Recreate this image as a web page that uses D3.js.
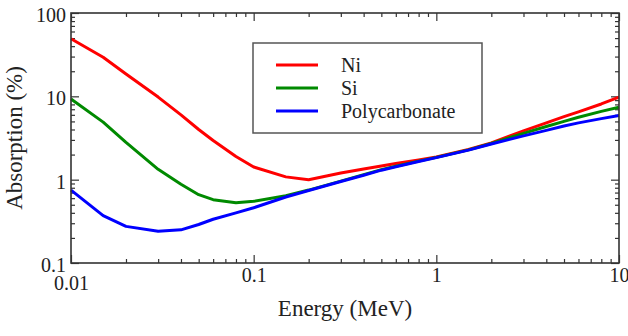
<!DOCTYPE html>
<html>
<head>
<meta charset="utf-8">
<script src="https://cdn.jsdelivr.net/npm/d3@7"></script>
</head>
<body style="margin:0">
<script>
// energies (MeV) shared by all series
const energy = [0.01, 0.015, 0.02, 0.03, 0.04, 0.05, 0.06, 0.08, 0.1, 0.15, 0.2, 0.3, 0.4, 0.5, 0.6, 0.8, 1, 1.5, 2, 3, 4, 5, 6, 8, 10];

// absorption (%) per material
const ni = [49, 29.5, 18.5, 9.8, 6.0, 4.0, 2.95, 1.9, 1.42, 1.08, 1.0, 1.2, 1.34, 1.46, 1.56, 1.72, 1.87, 2.3, 2.76, 3.85, 4.8, 5.7, 6.5, 8.1, 9.8];
const si = [9.3, 4.9, 2.8, 1.33, 0.88, 0.66, 0.575, 0.53, 0.55, 0.64, 0.75, 0.96, 1.15, 1.32, 1.45, 1.67, 1.85, 2.28, 2.72, 3.6, 4.35, 5.0, 5.6, 6.6, 7.4];
const pc = [0.75, 0.37, 0.275, 0.24, 0.25, 0.29, 0.335, 0.4, 0.46, 0.62, 0.74, 0.95, 1.13, 1.3, 1.43, 1.65, 1.84, 2.26, 2.68, 3.35, 3.9, 4.4, 4.8, 5.4, 5.9];

const seriesNames = ["Ni", "Si", "Polycarbonate"];
const seriesColors = ["#ff0000", "#008a00", "#0000ff"];

const xMajor = [0.01, 0.1, 1, 10];
const yMajor = [0.1, 1, 10, 100];

const W = 628, H = 336;
const m = { left: 71, right: 9, top: 13, bottom: 73 };
const FONT = '"Times New Roman"';

const svg = d3.select("body").append("svg")
  .attr("width", W)
  .attr("height", H);

const x = d3.scaleLog().domain([0.01, 10]).range([m.left, W - m.right]);
const y = d3.scaleLog().domain([0.1, 100]).range([H - m.bottom, m.top]);

// minor ticks 2..9 of each decade
const xMinor = x.ticks().filter(v => !xMajor.some(t => Math.abs(t - v) < 1e-9));
const yMinor = y.ticks().filter(v => !yMajor.some(t => Math.abs(t - v) < 1e-9));

const fmt = d => String(+d.toPrecision(3));

function addAxis(axisFn, scale, transform, values, size, labels) {
  const a = axisFn(scale).tickValues(values).tickSizeInner(-size).tickSizeOuter(0);
  if (labels) a.tickPadding(5).tickFormat(fmt); else a.tickFormat("");
  const g = svg.append("g").attr("transform", transform).call(a);
  g.select(".domain").remove();
  g.attr("font-family", null).attr("font-size", null);
  g.selectAll(".tick line").attr("stroke", "#333").attr("stroke-width", 1.2);
  g.selectAll("text")
    .style("font-family", FONT)
    .style("font-size", "20px")
    .style("fill", "#222");
  return g;
}

const atBottom = `translate(0,${H - m.bottom})`;
const atTop = `translate(0,${m.top})`;
const atLeft = `translate(${m.left},0)`;
const atRight = `translate(${W - m.right},0)`;

addAxis(d3.axisBottom, x, atBottom, xMinor, 4, false);
const xg = addAxis(d3.axisBottom, x, atBottom, xMajor, 8, true);
addAxis(d3.axisTop, x, atTop, xMinor, 4, false);
addAxis(d3.axisTop, x, atTop, xMajor, 8, false);
addAxis(d3.axisLeft, y, atLeft, yMinor, 4, false);
const yg = addAxis(d3.axisLeft, y, atLeft, yMajor, 8, true);
addAxis(d3.axisRight, y, atRight, yMinor, 4, false);
addAxis(d3.axisRight, y, atRight, yMajor, 8, false);

// the 0.01 label sits a little lower, under the 0.1 of the y axis
xg.selectAll(".tick").filter(d => d === 0.01).select("text").attr("dy", "1.1em");
yg.selectAll("text").attr("x", -5).attr("dy", "0.42em");

// data lines
const line = d3.line()
  .x((d, i) => x(energy[i]))
  .y(d => y(d));

[ni, si, pc].forEach((vals, k) => {
  svg.append("path")
    .datum(vals)
    .attr("fill", "none")
    .attr("stroke", seriesColors[k])
    .attr("stroke-width", 3)
    .attr("stroke-linejoin", "round")
    .attr("d", line);
});

// frame
svg.append("rect")
  .attr("x", m.left)
  .attr("y", m.top)
  .attr("width", W - m.left - m.right)
  .attr("height", H - m.top - m.bottom)
  .attr("fill", "none")
  .attr("stroke", "#333")
  .attr("stroke-width", 1.6);

// axis titles
svg.append("text")
  .attr("x", (m.left + W - m.right) / 2)
  .attr("y", 316)
  .attr("text-anchor", "middle")
  .style("fill", "#222")
  .style("font-family", FONT)
  .style("font-size", "23px")
  .text("Energy (MeV)");

svg.append("text")
  .attr("transform", `translate(22,${(m.top + H - m.bottom) / 2}) rotate(-90)`)
  .attr("text-anchor", "middle")
  .style("fill", "#222")
  .style("font-family", FONT)
  .style("font-size", "23px")
  .text("Absorption (%)");

// legend
const lg = svg.append("g").attr("transform", "translate(253,43)");
lg.append("rect")
  .attr("width", 229)
  .attr("height", 90)
  .attr("fill", "#fff")
  .attr("stroke", "#555")
  .attr("stroke-width", 1.5);

seriesNames.forEach((name, k) => {
  const yy = 22 + k * 23;
  lg.append("line")
    .attr("x1", 23).attr("x2", 65)
    .attr("y1", yy).attr("y2", yy)
    .attr("stroke", seriesColors[k])
    .attr("stroke-width", 3);
  lg.append("text")
    .attr("x", 88)
    .attr("y", yy)
    .attr("dy", "0.33em")
    .style("fill", "#222")
    .style("font-family", FONT)
    .style("font-size", "20px")
    .text(name);
});
</script>
</body>
</html>
